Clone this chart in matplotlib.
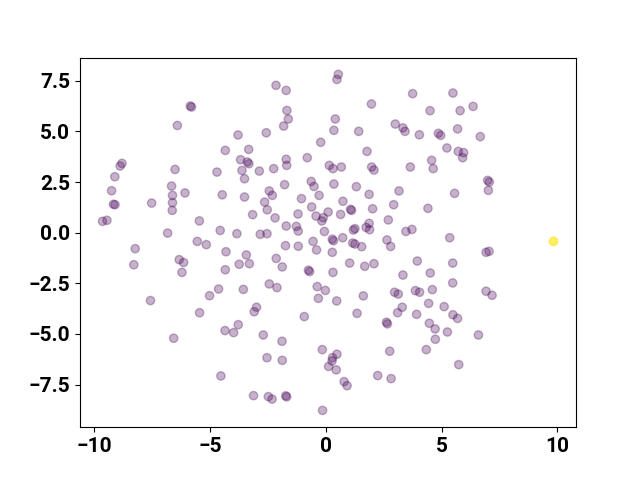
import matplotlib
matplotlib.use("Agg")
import matplotlib.pyplot as plt
import numpy as np

# embedding coordinates
x_vals = [
    -5.85, -5.80, -6.41, -8.80, -8.88, -6.51, -9.11, -6.66, -9.25, -6.08,
    -6.62, -9.17, -9.10, -7.52, -6.62, -6.63, -9.64, -9.45, -5.46, -6.83,
    -5.55, -5.16, -8.23, -8.29, -6.33, -6.14, -6.21, -5.02, -7.57, -5.45,
    -6.57,
    -2.15, -1.71, -1.68, -1.62, -1.82, -3.79, -2.57, -0.22, -4.34, -3.33,
    -0.80, -3.68, -3.39, -3.32, -1.71, -1.69, -4.70, -3.62, -2.87, -2.25,
    -3.51, -1.78, -0.63, -0.51, -4.47, -3.51, -2.44, -2.31, -0.29, -2.64,
    -1.05, -2.53, -0.61, -3.16, -2.19, -1.20, -0.42, -0.11, -0.17, 0.10,
    -1.71, -1.27, -1.19, -4.56, -3.84, -2.83, -2.54, -0.06,
    -4.31, -4.34, -3.43, -3.74, -3.30, -2.14, -1.88, -1.74, -1.19, -0.55,
    -0.40, -0.75, -0.70, -4.63, -3.56, -2.44, -2.11, -0.37, -0.02, -0.32,
    -2.99, -3.09, -0.93, -4.35, -3.98, -3.78, -2.70, -1.89, -0.15, -2.54,
    -1.88, -4.53, -3.12, -2.48, -2.32, -1.73, -1.69, -0.14,
    0.54, 0.48, 3.75, 5.49, 1.97, 4.50, 0.41, 0.35, 1.42, 3.00,
    3.33, 3.42, 4.04, 4.86, 4.96, 5.23, 1.78, 0.15, 0.31, 0.67,
    1.98, 2.08, 3.65, 4.57, 4.64, 0.35, 1.32, 3.16, 1.87, 0.74,
    2.93, 4.41, 2.02, 1.07, 1.11, 0.64, 2.70, 1.87, 1.74, 1.89,
    1.19, 1.26, 3.46, 3.72, 5.35,
    0.28, 0.33, 0.73, 1.16, 1.26, 1.55, 2.64, 2.80, 0.28, 1.03,
    1.68, 2.08, 3.95, 0.31, 3.33, 4.51, 0.47, 1.62, 2.97, 3.13,
    3.87, 4.05, 4.60, 4.44, 5.11, 3.30, 3.10, 3.92, 1.35, 2.62,
    2.66, 4.47, 4.72, 4.73, 5.25, 2.76, 4.34, 0.48, 0.29, 0.27,
    0.12, 0.45, 0.79, 0.92, 2.24, 2.82,
    6.36, 5.80, 5.69, 6.67, 5.72, 5.95, 5.91, 6.99, 7.06, 7.02,
    5.56, 6.92, 7.05, 5.48, 5.48, 6.92, 7.18, 5.49, 5.69, 6.59,
    5.74,
    9.83,
]

y_vals = [
    6.25, 6.20, 5.29, 3.42, 3.29, 3.12, 2.76, 2.30, 2.07, 1.96,
    1.84, 1.40, 1.38, 1.46, 1.48, 1.10, 0.56, 0.61, 0.58, -0.02,
    -0.43, -0.59, -0.79, -1.58, -1.33, -1.47, -1.96, -3.11, -3.35, -3.95,
    -5.21,
    7.27, 7.02, 6.03, 5.61, 5.26, 4.82, 4.93, 4.46, 4.06, 4.11,
    3.70, 3.60, 3.49, 3.40, 3.62, 3.32, 2.99, 3.07, 3.04, 3.16,
    2.66, 2.37, 2.53, 2.28, 1.87, 1.76, 2.06, 1.84, 1.84, 1.51,
    1.68, 1.13, 1.27, 0.89, 0.73, 0.92, 0.82, 0.74, 0.58, 1.02,
    0.33, 0.31, 0.08, 0.11, -0.05, -0.08, -0.05, 0.06,
    -0.94, -1.83, -1.10, -1.56, -1.53, -1.27, -1.69, -0.64, -0.67, -0.43,
    -0.85, -1.85, -1.92, -2.78, -2.80, -2.53, -2.71, -2.66, -2.85, -3.24,
    -3.68, -3.90, -4.14, -4.83, -4.93, -4.54, -5.05, -5.36, -5.77, -6.17,
    -6.30, -7.07, -8.04, -8.09, -8.21, -8.05, -8.10, -8.77,
    7.81, 7.56, 6.86, 6.89, 6.35, 6.02, 5.61, 5.05, 5.00, 5.36,
    5.17, 5.00, 4.83, 4.90, 4.80, 4.18, 4.01, 3.32, 3.16, 3.24,
    3.24, 3.09, 3.24, 3.57, 3.16, 2.40, 2.27, 2.06, 1.89, 1.55,
    1.38, 1.20, 1.18, 1.15, 1.10, 0.90, 0.63, 0.46, 0.26, 0.15,
    0.13, 0.20, 0.06, 0.16, -0.25,
    -0.32, -0.40, -0.25, -0.51, -0.56, -0.69, -0.36, -0.68, -0.97, -1.50,
    -1.66, -1.53, -1.40, -1.96, -2.09, -1.99, -3.37, -3.12, -2.94, -3.03,
    -2.86, -2.94, -2.81, -3.49, -3.65, -3.68, -3.95, -4.03, -3.98, -4.42,
    -4.50, -4.47, -4.75, -5.26, -4.90, -5.85, -5.77, -6.00, -6.17, -6.33,
    -6.60, -6.77, -7.35, -7.55, -7.05, -7.20,
    6.23, 6.02, 5.12, 4.74, 4.01, 3.95, 3.70, 2.58, 2.50, 2.09,
    1.94, -0.97, -0.92, -1.50, -2.48, -2.89, -3.09, -4.05, -4.23, -5.05,
    -6.51,
    -0.43,
]

# 0 = inlier, 1 = outlier
cluster_labels = [0] * (len(x_vals) - 1) + [1]


def main() -> None:

    plt.rcParams["font.family"] = ["Roboto", "DejaVu Sans"]
    plt.rcParams["font.weight"] = "bold"
    plt.rcParams["font.size"] = 15

    fig, ax = plt.subplots(figsize=(6.4, 4.8), dpi=100)

    labels = np.array(cluster_labels)
    cmap = plt.get_cmap("viridis")
    colors = cmap(labels.astype(float))
    # outlier reads more saturated than the inliers
    colors[:, 3] = np.where(labels == 1, 0.7, 0.3)

    ax.scatter(np.array(x_vals), np.array(y_vals), c=colors)

    for label in ax.get_xticklabels() + ax.get_yticklabels():
        label.set_fontweight("bold")

    fig.savefig("out.png", dpi=100)
    plt.close(fig)


if __name__ == "__main__":
    main()
